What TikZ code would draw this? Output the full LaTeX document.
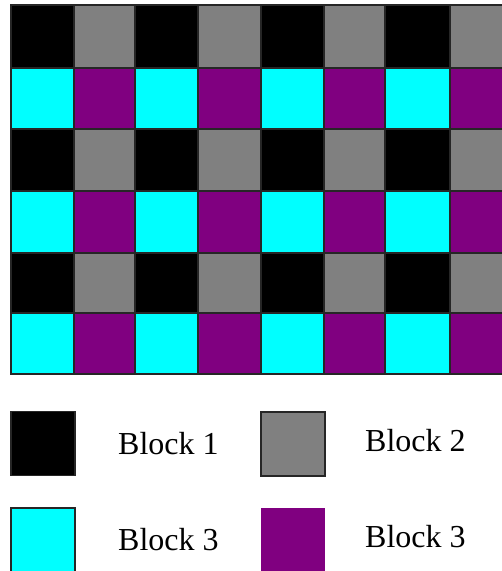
\documentclass[tikz,border=0pt]{standalone}
\usepackage{fontspec}
\setmainfont{Liberation Serif}
\usetikzlibrary{positioning}
\definecolor{blkgray}{RGB}{128,128,128}
\definecolor{blkcyan}{RGB}{0,255,255}
\definecolor{blkpurple}{RGB}{128,0,128}
\tikzset{
  cellbox/.style={draw=black!85,line width=1.3pt},
  legbox/.style={draw=black!85,line width=1.1pt,minimum width=64pt,minimum height=64pt,inner sep=0pt,outer sep=0pt},
  legtext/.style={font=\fontsize{32}{36}\selectfont,anchor=west,inner sep=0pt}
}
\begin{document}
\begin{tikzpicture}[x=1pt,y=-1pt]
  \useasboundingbox (0,0) rectangle (502,571);
  \clip (0,0) rectangle (502,571);
  % grid: row tops / column lefts in px
  \foreach \ya/\yb [count=\r from 0] in {5/68,68/129,129/191,191/253,253/313,313/374}{
    \foreach \xa/\xb [count=\c from 0] in {11/74,74/135,135/198,198/261,261/324,324/385,385/450,450/513}{
      \pgfmathtruncatemacro{\k}{mod(\r,2)*2+mod(\c,2)}
      \ifcase\k \def\cc{black}\or \def\cc{blkgray}\or \def\cc{blkcyan}\else \def\cc{blkpurple}\fi
      \draw[cellbox,fill=\cc] (\xa,\ya) rectangle (\xb,\yb);
    }
  }
  % legend
  \node[legbox,fill=black] (k1) at (43,443.5) {};
  \node[legbox,fill=blkgray] (k2) at (293,444) {};
  \node[legbox,fill=blkcyan] (k3) at (43,540) {};
  \node[legbox,fill=blkpurple,draw=none] (k4) at (293,540) {};
  \node[legtext,right=43pt of k1] (t1) {Block 1};
  \node[legtext,right=40pt of k2,yshift=3pt] (t2) {Block 2};
  \node[legtext,right=43pt of k3] (t3) {Block 3};
  \node[legtext,right=40pt of k4,yshift=3pt] (t4) {Block 3};
\end{tikzpicture}
\end{document}
